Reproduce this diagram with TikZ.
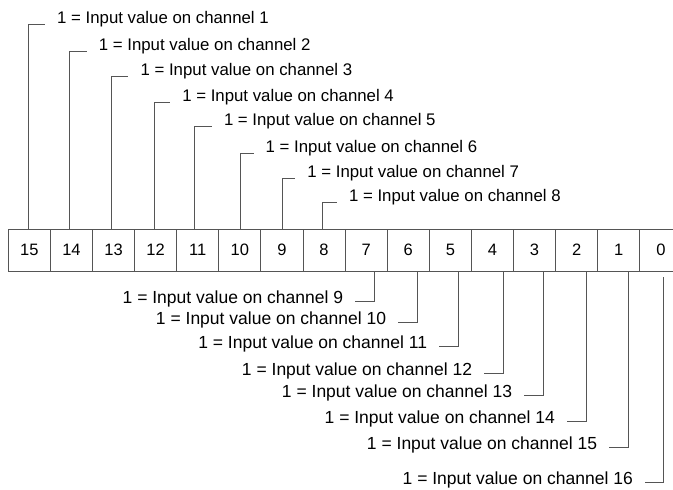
\documentclass[tikz,border=0pt]{standalone}
\usepackage{fontspec}
\setmainfont{Liberation Sans}
\definecolor{linec}{HTML}{555555}
\begin{document}
\begin{tikzpicture}[x=1pt,y=-1pt,
  cellbox/.style={draw=linec, line width=0.9pt, minimum width=42.1pt, minimum height=42pt, inner sep=0pt, font=\fontsize{16.5}{18}\selectfont},
  toplab/.style={anchor=base west, inner sep=0pt, font=\fontsize{16.8}{20}\selectfont},
  botlab/.style={anchor=base east, inner sep=0pt, font=\fontsize{17.5}{20}\selectfont},
  lead/.style={draw=linec, line width=0.9pt}]
\useasboundingbox (0,0) rectangle (673,490);
\clip (0,0) rectangle (673,490);
% register cells
\foreach \k in {0,...,15}
  \node[cellbox] (c\k) at ({29.35+42.1*(15-\k)},250) {\k};
% upper labels
\node[toplab] (t1) at (57,23) {1 = Input value on channel 1};
\node[toplab] (t2) at (98.7,50) {1 = Input value on channel 2};
\node[toplab] (t3) at (140.4,75) {1 = Input value on channel 3};
\node[toplab] (t4) at (182.1,101) {1 = Input value on channel 4};
\node[toplab] (t5) at (223.8,125) {1 = Input value on channel 5};
\node[toplab] (t6) at (265.5,152) {1 = Input value on channel 6};
\node[toplab] (t7) at (307.2,177) {1 = Input value on channel 7};
\node[toplab] (t8) at (348.9,201) {1 = Input value on channel 8};
\draw[lead] ([xshift=-1pt]c15.north) |- ([xshift=-12pt,yshift=-1pt]t1.base west);
\draw[lead] ([xshift=-2pt]c14.north) |- ([xshift=-12pt,yshift=-1pt]t2.base west);
\draw[lead] ([xshift=-2pt]c13.north) |- ([xshift=-12pt,yshift=-1pt]t3.base west);
\draw[lead] ([xshift=-1.5pt]c12.north) |- ([xshift=-12pt,yshift=-1pt]t4.base west);
\draw[lead] ([xshift=-3.5pt]c11.north) |- ([xshift=-12pt,yshift=-1pt]t5.base west);
\draw[lead] ([xshift=1pt]c10.north) |- ([xshift=-12pt,yshift=-1pt]t6.base west);
\draw[lead] ([xshift=0pt]c9.north) |- ([xshift=-12pt,yshift=-1pt]t7.base west);
\draw[lead] ([xshift=-1.5pt]c8.north) |- ([xshift=-12pt,yshift=-1pt]t8.base west);
% lower labels
\node[botlab] (t9) at (343.3,303) {1 = Input value on channel 9};
\node[botlab] (t10) at (386.3,324) {1 = Input value on channel 10};
\node[botlab] (t11) at (427.3,348) {1 = Input value on channel 11};
\node[botlab] (t12) at (472.3,375) {1 = Input value on channel 12};
\node[botlab] (t13) at (512.3,397) {1 = Input value on channel 13};
\node[botlab] (t14) at (555,423) {1 = Input value on channel 14};
\node[botlab] (t15) at (597.3,449) {1 = Input value on channel 15};
\node[botlab] (t16) at (633,484) {1 = Input value on channel 16};
\draw[lead] ([xshift=8pt]c7.south) |- ([xshift=12pt,yshift=2pt]t9.base east);
\draw[lead] ([xshift=9pt]c6.south) |- ([xshift=12pt,yshift=2pt]t10.base east);
\draw[lead] ([xshift=8pt]c5.south) |- ([xshift=12pt,yshift=2pt]t11.base east);
\draw[lead] ([xshift=11pt]c4.south) |- ([xshift=12pt,yshift=2pt]t12.base east);
\draw[lead] ([xshift=9pt]c3.south) |- ([xshift=12pt,yshift=2pt]t13.base east);
\draw[lead] ([xshift=9.5pt]c2.south) |- ([xshift=12pt,yshift=2pt]t14.base east);
\draw[lead] ([xshift=9.5pt]c1.south) |- ([xshift=12pt,yshift=2pt]t15.base east);
\coordinate (s16) at ([xshift=3pt,yshift=-6pt]c0.south);
\draw[lead] (s16) |- ([xshift=12pt,yshift=2pt]t16.base east);
\end{tikzpicture}
\end{document}
